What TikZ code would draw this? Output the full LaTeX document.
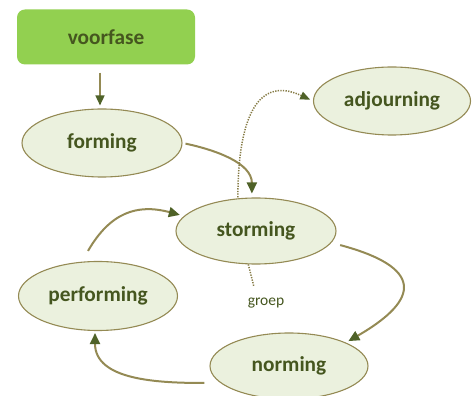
\documentclass[tikz,border=0pt]{standalone}
\usepackage{fontspec}
\setmainfont{Carlito}
\usetikzlibrary{arrows.meta,shapes.geometric}
\definecolor{boxgreen}{HTML}{92D050}
\definecolor{txtgreen}{HTML}{45561F}
\definecolor{ellfill}{HTML}{EBF1DE}
\definecolor{olive}{HTML}{948A54}
\definecolor{dotolive}{HTML}{857B45}
\definecolor{tipgreen}{HTML}{4F6228}
\tikzset{
  phase/.style={ellipse, draw=olive, fill=ellfill, line width=1.1pt, inner sep=0pt,
    font=\bfseries\fontsize{21.3}{24}\selectfont, text=txtgreen},
  conn/.style={draw=olive, line width=2pt,
    -{Triangle[length=11pt,width=10pt,color=tipgreen]}},
  dotconn/.style={draw=dotolive, line width=1.5pt, dash pattern=on 1.3pt off 1.3pt,
    -{Triangle[length=10pt,width=8pt,color=tipgreen]}},
  dotline/.style={draw=dotolive, line width=1.5pt, dash pattern=on 1.3pt off 1.3pt},
}
\begin{document}
\begin{tikzpicture}[x=1pt,y=1pt]
\useasboundingbox (0,0) rectangle (474,396);
\node[rounded corners=8pt, fill=boxgreen, minimum width=178pt, minimum height=55pt,
  font=\bfseries\fontsize{21.3}{24}\selectfont, text=txtgreen] (voorfase) at (106,359) {voorfase};
\node[phase, minimum width=160pt, minimum height=68pt] (forming) at (102,253) {forming};
\node[phase, minimum width=157pt, minimum height=68pt] (adjourning) at (392,295) {adjourning};
\node[phase, minimum width=160pt, minimum height=66pt] (storming) at (256,165) {storming};
\node[phase, minimum width=159pt, minimum height=69pt] (performing) at (98,100) {performing};
\node[phase, minimum width=158pt, minimum height=66pt] (norming) at (289,30) {norming};
\node[font=\fontsize{15.5}{18}\selectfont, text=txtgreen] (groep) at (266,93) {groep};

\draw[draw=olive, line width=1.5pt, -{Triangle[length=10pt,width=9pt,color=tipgreen]},
  shorten <=8pt, shorten >=3pt] ([xshift=-6pt]voorfase.south) -- ([xshift=-2pt]forming.north);
\draw[conn, shorten <=3pt, shorten >=4pt] (forming.east) to[out=-12, in=90] (storming.97);
\draw[conn] ([shift={(10,-1)}]storming.-10) .. controls +(-15:85) and +(30:85) .. ([shift={(6,0)}]norming.25);
\draw[conn] ([shift={(-5,-17)}]norming.west) to[out=180, in=-90] ([shift={(-3,-2)}]performing.south);
\draw[conn] ([shift={(-10,10)}]performing.north) to[out=60, in=165, looseness=1.15] ([shift={(-2,3)}]storming.170);
\draw[dotconn, shorten >=3pt] ([yshift=1pt]storming.119) to[out=90, in=155, looseness=1.4] (adjourning.west);
\draw[dotline] (storming.-103) -- ([shift={(-12,16)}]groep.center);
\end{tikzpicture}
\end{document}
